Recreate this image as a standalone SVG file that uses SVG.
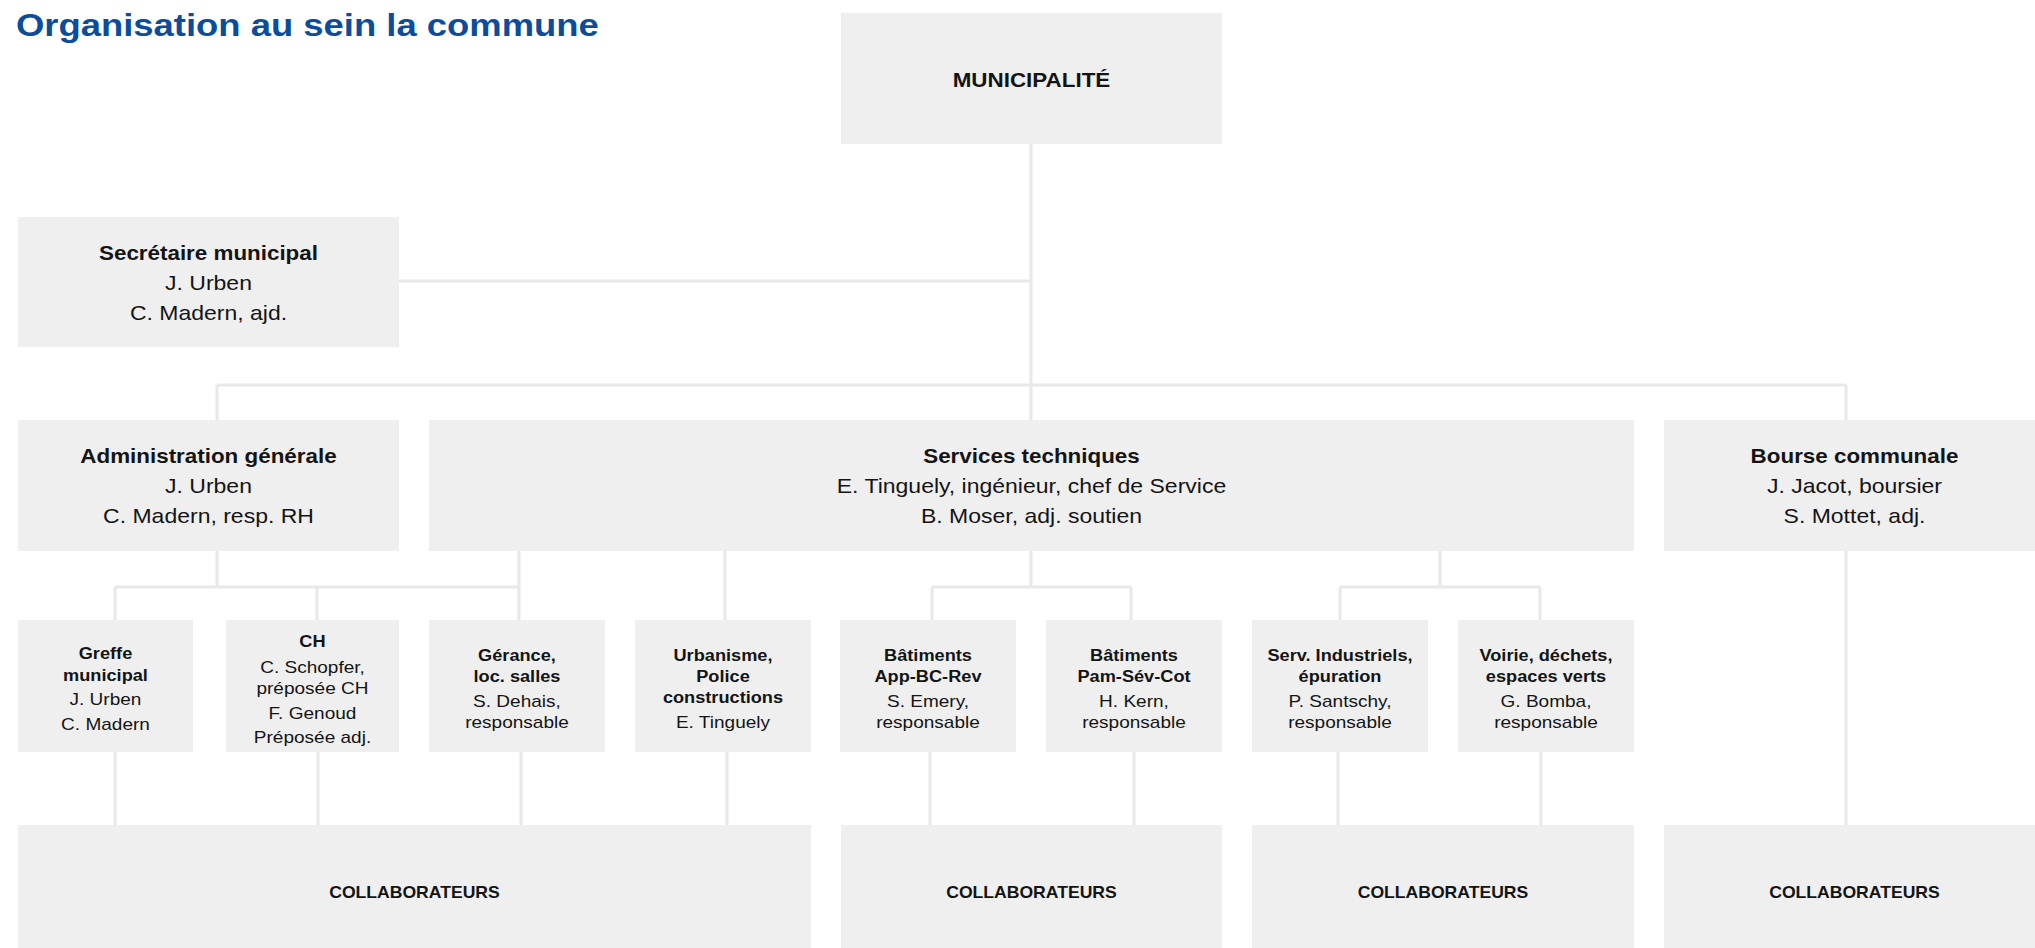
<svg xmlns="http://www.w3.org/2000/svg" width="2035" height="948" viewBox="0 0 2035 948">
<style>
.box{fill:#efefef}
.ln{stroke:#e8e8e8;stroke-width:3;fill:none}
text{font-family:"Liberation Sans",Arial,sans-serif;fill:#141414;text-anchor:middle;transform-box:fill-box;transform-origin:center}
.t{font-weight:bold;font-size:31px;fill:#0b4c9c;text-anchor:start;transform-origin:0 50%;transform:scaleX(1.175)}
.h{font-weight:bold;font-size:20px;transform:scaleX(1.12)}
.r{font-size:20px;transform:scaleX(1.15)}
.hs{font-weight:bold;font-size:17px;transform:scaleX(1.07)}
.rs{font-size:17px;transform:scaleX(1.12)}
.c{font-weight:bold;font-size:16px;transform:scaleX(1.1)}
</style>
<rect width="2035" height="948" fill="#fff"/>
<text class="t" x="16" y="36">Organisation au sein la commune</text>
<g id="connectors">
<path class="ln" d="M1031 144V420M399 281H1031M217 385H1846M217 385V420M1846 385V825"/>
<path class="ln" d="M217 551V587M115 587H519M115 587V620M317 587V620M519 551V620"/>
<path class="ln" d="M725 551V620M1031 551V587M932 587H1131M932 587V620M1131 587V620"/>
<path class="ln" d="M1440 551V587M1340 587H1540M1340 587V620M1540 587V620"/>
<path class="ln" d="M115 752V825M318 752V825M521 752V825M727 752V825M930 752V825M1134 752V825M1338 752V825M1541 752V825"/>
</g>
<g id="municipalite"><rect class="box" x="841" y="13" width="381" height="131"/><text class="h" x="1031.5" y="87">MUNICIPALITÉ</text></g>
<g id="secretaire"><rect class="box" x="18" y="217" width="381" height="130"/>
<text class="h" x="208.5" y="260">Secrétaire municipal</text><text class="r" x="208.5" y="290">J. Urben</text><text class="r" x="208.5" y="320">C. Madern, ajd.</text></g>
<g id="admin"><rect class="box" x="18" y="420" width="381" height="131"/>
<text class="h" x="208.5" y="463">Administration générale</text><text class="r" x="208.5" y="493">J. Urben</text><text class="r" x="208.5" y="523">C. Madern, resp. RH</text></g>
<g id="services"><rect class="box" x="429" y="420" width="1205" height="131"/>
<text class="h" x="1031.5" y="463">Services techniques</text><text class="r" x="1031.5" y="493">E. Tinguely, ingénieur, chef de Service</text><text class="r" x="1031.5" y="523">B. Moser, adj. soutien</text></g>
<g id="bourse"><rect class="box" x="1664" y="420" width="381" height="131"/>
<text class="h" x="1854.5" y="463">Bourse communale</text><text class="r" x="1854.5" y="493">J. Jacot, boursier</text><text class="r" x="1854.5" y="523">S. Mottet, adj.</text></g>
<g id="greffe"><rect class="box" x="18" y="620" width="175" height="132"/>
<text class="hs" x="105.5" y="659">Greffe</text><text class="hs" x="105.5" y="681">municipal</text><text class="rs" x="105.5" y="705">J. Urben</text><text class="rs" x="105.5" y="730">C. Madern</text></g>
<g id="ch"><rect class="box" x="226" y="620" width="173" height="132"/>
<text class="hs" x="312.5" y="647">CH</text><text class="rs" x="312.5" y="673">C. Schopfer,</text><text class="rs" x="312.5" y="694">préposée CH</text><text class="rs" x="312.5" y="719">F. Genoud</text><text class="rs" x="312.5" y="743">Préposée adj.</text></g>
<g id="gerance"><rect class="box" x="429" y="620" width="176" height="132"/>
<text class="hs" x="517" y="661">Gérance,</text><text class="hs" x="517" y="682">loc. salles</text><text class="rs" x="517" y="707">S. Dehais,</text><text class="rs" x="517" y="728">responsable</text></g>
<g id="urbanisme"><rect class="box" x="635" y="620" width="176" height="132"/>
<text class="hs" x="723" y="661">Urbanisme,</text><text class="hs" x="723" y="682">Police</text><text class="hs" x="723" y="703">constructions</text><text class="rs" x="723" y="728">E. Tinguely</text></g>
<g id="bat-app"><rect class="box" x="840" y="620" width="176" height="132"/>
<text class="hs" x="928" y="661">Bâtiments</text><text class="hs" x="928" y="682">App-BC-Rev</text><text class="rs" x="928" y="707">S. Emery,</text><text class="rs" x="928" y="728">responsable</text></g>
<g id="bat-pam"><rect class="box" x="1046" y="620" width="176" height="132"/>
<text class="hs" x="1134" y="661">Bâtiments</text><text class="hs" x="1134" y="682">Pam-Sév-Cot</text><text class="rs" x="1134" y="707">H. Kern,</text><text class="rs" x="1134" y="728">responsable</text></g>
<g id="serv-ind"><rect class="box" x="1252" y="620" width="176" height="132"/>
<text class="hs" x="1340" y="661">Serv. Industriels,</text><text class="hs" x="1340" y="682">épuration</text><text class="rs" x="1340" y="707">P. Santschy,</text><text class="rs" x="1340" y="728">responsable</text></g>
<g id="voirie"><rect class="box" x="1458" y="620" width="176" height="132"/>
<text class="hs" x="1546" y="661">Voirie, déchets,</text><text class="hs" x="1546" y="682">espaces verts</text><text class="rs" x="1546" y="707">G. Bomba,</text><text class="rs" x="1546" y="728">responsable</text></g>
<g id="collab-1"><rect class="box" x="18" y="825" width="793" height="123"/><text class="c" x="414.5" y="898">COLLABORATEURS</text></g>
<g id="collab-2"><rect class="box" x="841" y="825" width="381" height="123"/><text class="c" x="1031.5" y="898">COLLABORATEURS</text></g>
<g id="collab-3"><rect class="box" x="1252" y="825" width="382" height="123"/><text class="c" x="1443" y="898">COLLABORATEURS</text></g>
<g id="collab-4"><rect class="box" x="1664" y="825" width="381" height="123"/><text class="c" x="1854.5" y="898">COLLABORATEURS</text></g>
</svg>
